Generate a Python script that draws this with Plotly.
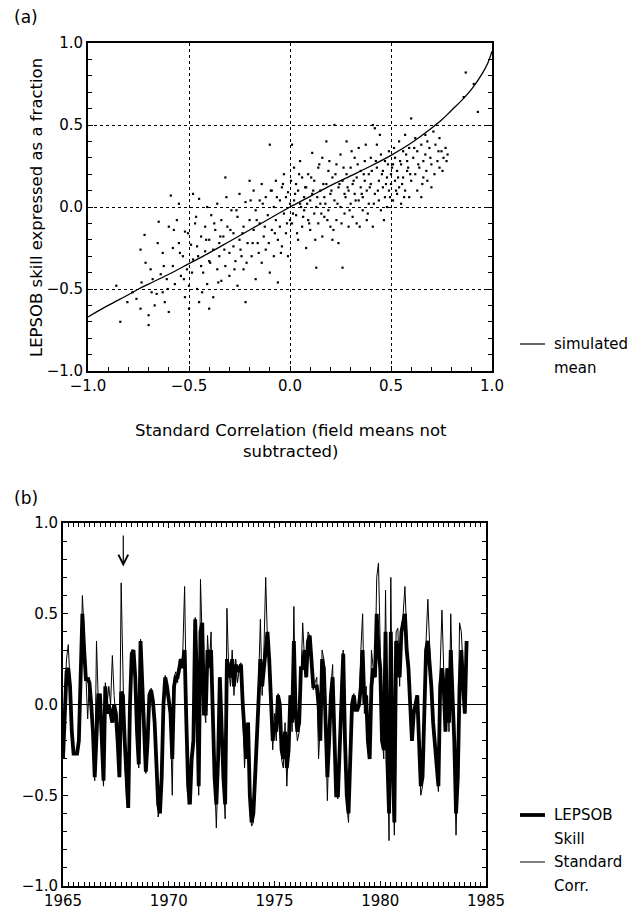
import plotly.graph_objects as go

# ---------------- Panel (a) data ----------------
scatter_x = [
    -0.84, -0.86, -0.78, -0.76, -0.74, -0.74, -0.72, -0.70, -0.70, -0.69,
    -0.68, -0.67, -0.66, -0.65, -0.64, -0.63, -0.63, -0.62, -0.61, -0.60,
    -0.60, -0.59, -0.58, -0.58, -0.57,
    -0.56, -0.55, -0.55, -0.54, -0.53, -0.52, -0.52, -0.51, -0.50, -0.50,
    -0.49, -0.48, -0.48, -0.47, -0.46, -0.46, -0.45, -0.45, -0.44, -0.44,
    -0.43, -0.42, -0.42, -0.41, -0.41, -0.40, -0.40, -0.40,
    -0.39, -0.38, -0.38, -0.37, -0.36, -0.36, -0.35, -0.35, -0.34, -0.34,
    -0.33, -0.32, -0.32, -0.31, -0.30, -0.30, -0.29, -0.28, -0.28, -0.27,
    -0.26, -0.26, -0.25, -0.25, -0.24, -0.23, -0.23, -0.22, -0.22, -0.21,
    -0.20, -0.20,
    -0.19, -0.18, -0.18, -0.17, -0.17, -0.16, -0.15, -0.15, -0.14, -0.14,
    -0.13, -0.12, -0.12, -0.11, -0.10, -0.10, -0.09, -0.09, -0.08, -0.08,
    -0.07, -0.07, -0.06, -0.06, -0.05, -0.05, -0.04, -0.04, -0.03, -0.03,
    -0.02, -0.02, -0.01, -0.01, 0.00, 0.00,
    0.01, 0.01, 0.02, 0.02, 0.03, 0.03, 0.04, 0.04, 0.05, 0.05,
    0.06, 0.06, 0.07, 0.07, 0.08, 0.08, 0.09, 0.09, 0.10, 0.10,
    0.11, 0.11, 0.12, 0.12, 0.13, 0.13, 0.14, 0.14, 0.15, 0.15,
    0.16, 0.16, 0.17, 0.17, 0.18, 0.18, 0.19, 0.19, 0.20, 0.20,
    0.21, 0.21, 0.22, 0.22, 0.23, 0.23, 0.24, 0.24, 0.25, 0.25,
    0.26, 0.26, 0.27, 0.27, 0.28, 0.28, 0.29, 0.29, 0.30, 0.30,
    0.31, 0.31, 0.32, 0.32, 0.33, 0.33, 0.34, 0.34, 0.35, 0.35,
    0.36, 0.36, 0.37, 0.37, 0.38, 0.38, 0.39, 0.39, 0.40, 0.40,
    0.41, 0.41, 0.42, 0.42, 0.43, 0.43, 0.44, 0.44, 0.45, 0.45,
    0.46, 0.46, 0.47, 0.47, 0.48, 0.48, 0.49, 0.49, 0.50, 0.50,
    0.51, 0.51, 0.52, 0.52, 0.53, 0.53, 0.54, 0.54, 0.55, 0.55,
    0.56, 0.56, 0.57, 0.57, 0.58, 0.58, 0.59, 0.59, 0.60, 0.60,
    0.61, 0.62, 0.62, 0.63, 0.63, 0.64, 0.65, 0.65, 0.66, 0.66,
    0.67, 0.67, 0.68, 0.68, 0.69, 0.70, 0.70, 0.71, 0.72, 0.73,
    0.74, 0.74, 0.75, 0.76, 0.77, 0.78, 0.86, 0.87, 0.91, 0.93,
]
scatter_y = [
    -0.70, -0.48, -0.52, -0.56, -0.62, -0.26, -0.17, -0.72, -0.66, -0.38,
    -0.44, -0.60, -0.53, -0.09, -0.41, -0.28, -0.52, -0.58, -0.44, -0.64,
    -0.12, 0.07, -0.25, -0.36, -0.47,
    -0.08, 0.02, -0.22, -0.42, -0.30, -0.55, -0.15, -0.38, -0.48, -0.62,
    -0.23, 0.08, -0.32, -0.10, -0.50, -0.24, 0.05, -0.58, -0.18, -0.36,
    -0.40, -0.12, -0.27, 0.00, -0.47, -0.20, -0.33, -0.62,
    -0.05, -0.26, -0.55, -0.14, -0.38, 0.02, -0.30, -0.22, -0.08, -0.45,
    -0.18, -0.36, 0.18, -0.12, -0.28, -0.42, -0.02, -0.24, -0.16, -0.33,
    -0.06, -0.48, -0.20, 0.08, -0.30, -0.12, -0.38, -0.58, 0.03, -0.22,
    -0.08, 0.16,
    -0.30, -0.14, 0.10, -0.02, -0.44, -0.22, 0.04, -0.10, -0.34, 0.14,
    -0.18, 0.06, -0.26, -0.05, 0.38, -0.40, -0.14, 0.10, 0.00, -0.30,
    -0.08, 0.16, -0.20, -0.46, 0.04, -0.12, 0.12, -0.24, -0.04, 0.20,
    -0.16, 0.06, 0.09, -0.30, 0.02, -0.08,
    0.38, -0.10, 0.04, 0.24, -0.05, 0.14, -0.20, 0.10, 0.02, 0.28,
    -0.12, 0.18, 0.06, -0.02, -0.25, 0.12, 0.20, -0.08, 0.04, -0.14,
    0.33, 0.08, -0.04, 0.16, -0.37, 0.00, 0.24, -0.10, 0.10, 0.02,
    -0.18, 0.30, 0.06, -0.06, 0.40, 0.14, -0.02, 0.22, 0.08, -0.12,
    0.18, -0.20, 0.04, 0.50, 0.26, -0.08, 0.12, -0.22, 0.00, 0.32,
    0.16, -0.37, 0.08, -0.04, 0.20, 0.40, 0.10, -0.12, 0.24, 0.02,
    0.14, -0.06, 0.30, 0.08, -0.10, 0.18, 0.04, 0.36, 0.12, 0.22,
    -0.02, 0.06, 0.16, 0.28, 0.10, -0.08, 0.20, 0.02, 0.14, 0.30,
    0.50, -0.12, 0.08, 0.48, 0.24, 0.38, 0.04, 0.16, 0.32, -0.02,
    0.12, 0.22, 0.06, 0.28, 0.18, 0.00, 0.34, 0.10, 0.20, 0.14,
    0.26, 0.04, 0.30, 0.16, 0.08, 0.22, 0.40, 0.12, 0.26, 0.02,
    0.34, 0.18, 0.44, 0.10, 0.28, 0.22, 0.06, 0.36, 0.54, 0.16,
    0.30, 0.20, 0.42, 0.10, 0.34, 0.24, 0.06, 0.38, 0.28, 0.18,
    0.44, 0.32, 0.16, 0.40, 0.36, 0.26, 0.12, 0.46, 0.38, 0.28,
    0.24, 0.42, 0.34, 0.30, 0.36, 0.32, 0.67, 0.82, 0.75, 0.58,
]
scatter_x2 = [
    -0.805, -0.735, -0.715, -0.685, -0.655, -0.625, -0.605, -0.575, -0.545, -0.525,
    -0.505, -0.485, -0.465, -0.455, -0.435, -0.415, -0.395, -0.375, -0.355, -0.345,
    -0.325, -0.315, -0.295, -0.275, -0.265, -0.245, -0.235, -0.215, -0.195, -0.185,
    -0.165, -0.155, -0.135, -0.125, -0.105, -0.095, -0.075, -0.065, -0.045, -0.035,
    -0.015, 0.005, 0.015, 0.025, 0.035, 0.045, 0.055, 0.065, 0.075, 0.085,
    0.095, 0.105, 0.115, 0.125, 0.135, 0.145, 0.155, 0.165, 0.175, 0.185,
    0.195, 0.205, 0.215, 0.225, 0.235, 0.245, 0.255, 0.265, 0.275, 0.285,
    0.295, 0.305, 0.315, 0.325, 0.335, 0.345, 0.355, 0.365, 0.375, 0.385,
    0.395, 0.405, 0.415, 0.425, 0.435, 0.445, 0.455, 0.465, 0.475, 0.485,
    0.495, 0.505, 0.515, 0.525, 0.535, 0.545, 0.555, 0.565, 0.575, 0.585,
    0.595, 0.615, 0.635, 0.655, 0.675, 0.695, 0.715, 0.735, 0.755, 0.775,
]
scatter_y2 = [
    -0.58, -0.46, -0.34, -0.52, -0.22, -0.36, -0.50, -0.14, -0.28, -0.44,
    -0.16, -0.40, -0.06, -0.30, -0.52, -0.20, -0.34, -0.10, -0.46, -0.18,
    -0.26, 0.06, -0.14, -0.38, -0.02, -0.26, -0.16, -0.34, 0.04, -0.22,
    -0.08, -0.28, 0.02, -0.12, -0.22, 0.10, -0.16, 0.06, -0.28, 0.14,
    -0.10, 0.16, -0.04, 0.08, -0.16, 0.20, 0.00, -0.06, 0.12, 0.02,
    -0.10, 0.18, 0.10, -0.20, 0.06, 0.26, -0.04, 0.14, 0.02, -0.08,
    0.28, 0.10, -0.14, 0.20, 0.02, 0.14, -0.10, 0.24, 0.06, 0.12,
    -0.02, 0.34, 0.16, 0.04, 0.26, -0.12, 0.08, 0.20, 0.38, -0.04,
    0.12, 0.22, 0.02, 0.28, 0.10, 0.44, 0.20, -0.08, 0.14, 0.26,
    0.06, 0.24, 0.36, 0.10, 0.18, 0.28, 0.14, 0.06, 0.32, 0.24,
    0.20, 0.36, 0.26, 0.14, 0.22, 0.30, 0.20, 0.34, 0.22, 0.28,
]
assert len(scatter_x) == len(scatter_y)
assert len(scatter_x2) == len(scatter_y2)

curve_x = [-1.0, -0.9, -0.8, -0.75, -0.7, -0.6, -0.5, -0.4, -0.3, -0.2, -0.1, 0.0,
           0.1, 0.2, 0.3, 0.4, 0.5, 0.6, 0.7, 0.75, 0.8, 0.85, 0.9, 0.95, 0.98, 1.0]
curve_y = [-0.67, -0.60, -0.535, -0.50, -0.47, -0.41, -0.345, -0.28, -0.21, -0.14, -0.07, 0.0,
           0.065, 0.13, 0.19, 0.25, 0.315, 0.39, 0.48, 0.53, 0.59, 0.65, 0.72, 0.81, 0.88, 0.95]

# ---------------- Panel (b) data (monthly, starting Jan 1965) ----------------
start_year = 1965
lepsob_skill = [
    -0.30, -0.10, 0.18, 0.20, 0.10, -0.15, -0.27, -0.27, -0.27, -0.20, 0.10, 0.50,   # 1965
    0.30, 0.14, 0.14, 0.12, 0.00, -0.15, -0.40, -0.10, 0.05, 0.05, -0.20, -0.42,     # 1966
    0.10, -0.05, 0.00, -0.05, -0.10, 0.00, -0.05, -0.20, -0.40, 0.07, 0.05, -0.20,   # 1967
    -0.45, -0.57, 0.00, 0.28, 0.30, 0.15, -0.15, -0.33, 0.35, 0.10, -0.20, -0.37,    # 1968
    -0.20, 0.05, 0.08, 0.02, -0.10, -0.30, -0.55, -0.60, -0.40, 0.00, 0.15, 0.10,    # 1969
    0.00, -0.05, -0.30, 0.10, 0.15, 0.15, 0.20, 0.25, 0.20, 0.30, -0.10, -0.45,      # 1970
    -0.55, -0.30, -0.20, 0.47, 0.10, -0.45, 0.40, 0.45, -0.05, -0.05, 0.30, 0.25,    # 1971
    0.30, -0.10, -0.40, -0.55, -0.30, 0.15, -0.20, -0.40, -0.55, 0.25, 0.20, 0.15,   # 1972
    0.25, 0.10, 0.22, 0.18, 0.20, 0.22, 0.00, -0.15, -0.30, -0.10, -0.50, -0.65,     # 1973
    -0.60, -0.40, -0.20, -0.05, 0.25, 0.10, 0.20, 0.30, 0.40, 0.25, 0.00, -0.20,     # 1974
    -0.10, -0.15, 0.05, 0.00, -0.25, -0.30, -0.15, -0.35, -0.25, 0.05, -0.10, 0.35,  # 1975
    -0.05, -0.15, -0.10, 0.20, 0.20, 0.30, 0.15, 0.35, 0.38, 0.25, 0.10, 0.10,       # 1976
    0.10, 0.00, -0.20, 0.25, 0.20, -0.10, -0.40, -0.20, 0.05, 0.15, -0.20, -0.50,    # 1977
    -0.50, -0.20, 0.10, 0.28, -0.20, -0.50, -0.60, -0.30, 0.00, 0.05, -0.03, -0.03,  # 1978
    0.00, 0.10, 0.30, 0.00, 0.05, -0.20, -0.30, 0.10, 0.20, 0.15, 0.50, 0.30,        # 1979
    0.20, -0.20, -0.25, 0.40, -0.30, -0.60, 0.40, -0.30, -0.65, 0.35, 0.30, 0.15,    # 1980
    0.40, 0.45, 0.50, 0.30, 0.20, 0.00, -0.20, -0.05, 0.00, 0.05, -0.20, -0.45,      # 1981
    -0.40, -0.10, 0.30, 0.35, 0.25, 0.10, -0.10, -0.20, -0.30, -0.45, 0.10, 0.20,    # 1982
    0.10, -0.15, 0.20, -0.10, 0.30, 0.10, -0.20, -0.60, -0.40, 0.10, 0.30, 0.10,     # 1983
    -0.05, 0.35,                                                                     # 1984
]
standard_corr = [
    -0.30, 0.05, 0.25, 0.33, 0.12, -0.15, -0.27, -0.27, -0.26, -0.15, 0.15, 0.60,
    0.40, 0.10, -0.08, 0.15, 0.05, -0.10, -0.42, 0.35, 0.02, 0.06, -0.30, -0.45,
    0.12, 0.00, 0.10, 0.00, 0.27, 0.05, -0.10, -0.25, -0.35, 0.67, 0.10, -0.30,
    -0.50, -0.55, 0.05, 0.30, 0.30, 0.20, -0.20, -0.35, 0.36, 0.15, -0.25, -0.38,
    -0.15, 0.05, 0.09, 0.00, -0.10, -0.35, -0.62, -0.55, -0.30, 0.05, 0.16, 0.08,
    0.05, -0.10, -0.50, 0.15, 0.18, 0.12, 0.25, 0.20, 0.30, 0.65, 0.00, -0.55,
    -0.50, -0.25, -0.15, 0.48, 0.15, -0.50, 0.69, 0.40, 0.00, -0.10, 0.38, 0.20,
    0.40, -0.10, -0.45, -0.68, -0.35, 0.15, -0.15, -0.35, -0.63, 0.53, 0.20, 0.10,
    0.30, 0.05, 0.25, 0.12, 0.20, 0.23, -0.10, -0.35, -0.15, -0.10, -0.55, -0.67,
    -0.65, -0.35, -0.20, 0.10, 0.47, 0.05, 0.30, 0.70, 0.35, 0.20, -0.05, -0.25,
    -0.05, -0.20, 0.06, -0.05, -0.30, -0.35, -0.10, -0.45, -0.20, 0.05, -0.15, 0.54,
    -0.10, -0.20, -0.15, 0.20, 0.45, 0.25, 0.15, 0.40, 0.38, 0.20, 0.08, 0.12,
    0.15, -0.30, -0.10, 0.30, 0.25, -0.15, -0.53, -0.15, 0.10, 0.22, -0.25, -0.50,
    -0.52, -0.15, 0.15, 0.30, -0.25, -0.55, -0.65, -0.30, 0.02, 0.06, -0.02, -0.02,
    0.00, 0.30, 0.50, -0.05, 0.10, -0.25, -0.30, 0.30, 0.20, 0.15, 0.70, 0.78,
    0.30, -0.15, -0.30, 0.63, -0.20, -0.75, 0.70, -0.25, -0.72, 0.40, 0.42, 0.10,
    0.42, 0.50, 0.65, 0.35, 0.15, 0.05, -0.20, -0.10, 0.02, 0.05, -0.25, -0.50,
    -0.45, -0.05, 0.35, 0.58, 0.30, 0.10, -0.15, -0.25, -0.35, -0.48, 0.20, 0.52,
    0.20, -0.12, 0.20, -0.15, 0.50, 0.15, -0.30, -0.72, -0.30, 0.45, 0.40, 0.20,
    -0.05, 0.30,
]
months = [start_year + i / 12 for i in range(len(lepsob_skill))]

legend_a_label = ["simulated", "mean"]
legend_b_label1 = ["LEPSOB", "Skill"]
legend_b_label2 = ["Standard", "Corr."]

FONT = "DejaVu Sans"
# the page body margin is removed (post_script below), so the figure fills the window
W, H = 629, 916

def px_x(p):
    return p / W

def px_y(p):
    return 1 - p / H

fig = go.Figure()

# Panel (a)
fig.add_trace(go.Scatter(
    x=scatter_x + scatter_x2, y=scatter_y + scatter_y2, mode="markers",
    marker=dict(symbol="square", size=2.2, color="black"),
    showlegend=False, xaxis="x", yaxis="y", hoverinfo="skip"))
fig.add_trace(go.Scatter(
    x=curve_x, y=curve_y, mode="lines", line=dict(color="black", width=1.3, shape="spline"),
    name="simulated mean", showlegend=False, xaxis="x", yaxis="y"))

# Panel (b)
THICK, THIN = 3.8, 1.0
fig.add_trace(go.Scatter(
    x=months, y=lepsob_skill, mode="lines", line=dict(color="black", width=THICK),
    name="LEPSOB Skill", showlegend=False, xaxis="x2", yaxis="y2"))
fig.add_trace(go.Scatter(
    x=months, y=standard_corr, mode="lines", line=dict(color="black", width=THIN),
    name="Standard Corr.", showlegend=False, xaxis="x2", yaxis="y2"))

tickfont = dict(family=FONT, size=15, color="black")
common_axis = dict(showline=True, linecolor="black", linewidth=1.8, zeroline=False,
                   tickfont=tickfont, ticks="inside", ticklen=5, tickcolor="black")
text_font = dict(family=FONT, size=15, color="black")

# hand-built legends (sample line + text lines)
shapes = [dict(type="line", xref="x2", yref="y2", x0=1965, x1=1985, y0=0, y1=0,
               line=dict(color="black", width=1.2))]
annotations = []

def legend_entry(y_first, labels, width):
    shapes.append(dict(type="line", xref="paper", yref="paper",
                       x0=px_x(520), x1=px_x(545), y0=px_y(y_first), y1=px_y(y_first),
                       line=dict(color="black", width=width)))
    for k, lab in enumerate(labels):
        annotations.append(dict(text=lab, x=px_x(552), y=px_y(y_first + 23.5 * k),
                                xref="paper", yref="paper", xanchor="left", yanchor="middle",
                                showarrow=False, font=text_font))

legend_entry(344, legend_a_label, 1.2)
legend_entry(815, legend_b_label1, THICK)
legend_entry(862, legend_b_label2, THIN)

annotations += [
    dict(text="(a)", x=px_x(12), y=px_y(17), xref="paper", yref="paper",
         xanchor="left", yanchor="middle", showarrow=False,
         font=dict(family=FONT, size=17, color="black")),
    dict(text="(b)", x=px_x(12), y=px_y(498), xref="paper", yref="paper",
         xanchor="left", yanchor="middle", showarrow=False,
         font=dict(family=FONT, size=17, color="black")),
    dict(text="LEPSOB skill expressed as a fraction", textangle=-90,
         x=px_x(37), y=px_y(208), xref="paper", yref="paper",
         xanchor="center", yanchor="middle", showarrow=False,
         font=dict(family=FONT, size=16.5, color="black")),
    dict(text="Standard Correlation (field means not<br>subtracted)",
         x=px_x(291), y=px_y(441), xref="paper", yref="paper",
         xanchor="center", yanchor="middle", showarrow=False, align="center",
         font=dict(family=FONT, size=16.5, color="black")),
    dict(text="", x=1967.85, y=0.76, xref="x2", yref="y2",
         ax=1967.85, ay=0.94, axref="x2", ayref="y2",
         showarrow=True, arrowhead=5, arrowsize=1.6, arrowwidth=1.2,
         arrowcolor="black"),
]

fig.update_layout(
    width=W, height=H, paper_bgcolor="white", plot_bgcolor="white",
    margin=dict(l=0, r=0, t=0, b=0, autoexpand=False),
    font=dict(family=FONT, color="black"),
    showlegend=False,
    xaxis=dict(domain=[px_x(88), px_x(492)], range=[-1, 1], dtick=0.5, tick0=-1,
               tickformat=".1f", mirror=True,
               showgrid=True, gridcolor="black", griddash="dot", gridwidth=1,
               minor=dict(ticks="inside", dtick=0.1, ticklen=4, tickcolor="black", showgrid=False),
               anchor="y", **common_axis),
    yaxis=dict(domain=[px_y(371), px_y(43)], range=[-1, 1], dtick=0.5, tick0=-1,
               tickformat=".1f", mirror="allticks",
               showgrid=True, gridcolor="black", griddash="dot", gridwidth=1,
               minor=dict(ticks="inside", dtick=0.1, ticklen=4, tickcolor="black", showgrid=False),
               anchor="x", **common_axis),
    xaxis2=dict(domain=[px_x(63), px_x(486)], range=[1965, 1985], dtick=5, tick0=1965,
                mirror="allticks", showgrid=False,
                minor=dict(ticks="inside", dtick=0.25, ticklen=4, tickcolor="black"),
                anchor="y2", **common_axis),
    yaxis2=dict(domain=[px_y(886), px_y(523)], range=[-1, 1], dtick=0.5, tick0=-1,
                tickformat=".1f", mirror="allticks", showgrid=False,
                minor=dict(ticks="inside", dtick=0.1, ticklen=4, tickcolor="black"),
                anchor="x2", **common_axis),
    shapes=shapes,
    annotations=annotations,
)

fig.write_html(
    "out.html",
    config={"displayModeBar": False},
    post_script="document.body.style.margin='0';document.body.style.overflow='hidden';",
)
